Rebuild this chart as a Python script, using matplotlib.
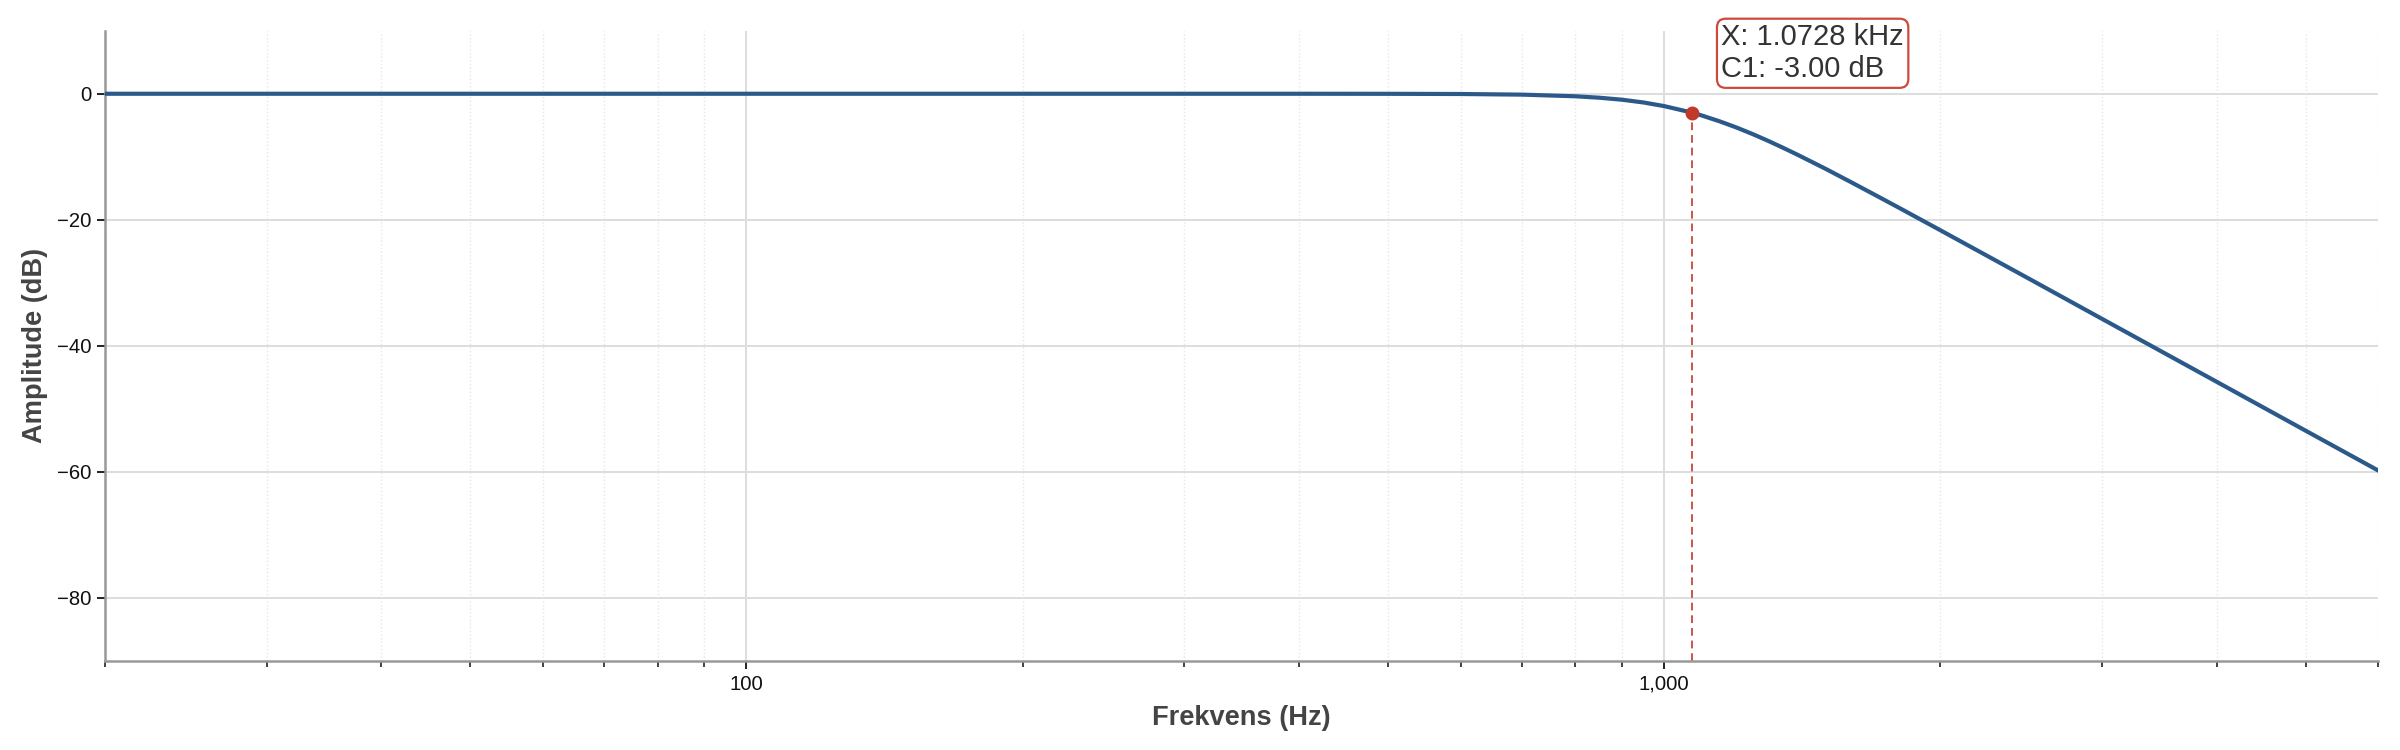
import matplotlib
matplotlib.use("Agg")
import matplotlib.pyplot as plt
from matplotlib.ticker import FuncFormatter, LogLocator, NullFormatter

# frekvensrespons (avlest fra kurven)
freq_hz = [20, 50, 100, 200, 300, 400, 500, 600, 700, 800, 850, 900, 950, 1000,
           1072.8, 1100, 1150, 1200, 1250, 1300, 1350, 1400, 1500, 1600, 1700,
           1800, 2000, 2500, 3000, 4000, 5000, 6000]
amp_db = [0.0, 0.0, 0.0, 0.0, 0.0, 0.0, -0.01, -0.04, -0.14, -0.40, -0.63, -0.95,
          -1.39, -1.96, -3.0, -3.47, -4.39, -5.38, -6.43, -7.52, -8.63, -9.74,
          -11.93, -14.07, -16.11, -18.05, -21.67, -29.39, -35.73, -45.72, -53.48,
          -59.81]

# markør
cursor_f = 1072.8
cursor_db = -3.00
cursor_text = "X: 1.0728 kHz\nC1: -3.00 dB"

y_ticks = [0, -20, -40, -60, -80]
x_major = [100, 1000]

plt.rcParams['font.family'] = ['Liberation Sans', 'DejaVu Sans']

fig = plt.figure(figsize=(12, 3.75), dpi=200)
ax = fig.add_axes([0.04375, 0.119, 0.9472, 0.84])

ax.plot(freq_hz, amp_db, color='#2b5a8a', lw=1.5, zorder=3)
ax.vlines(cursor_f, -90, cursor_db, colors='#c0392b', linestyles=(0, (4, 2.5)),
          lw=0.7, alpha=0.85, zorder=2)
ax.plot([cursor_f], [cursor_db], 'o', color='#c0392b', ms=4, zorder=4)
ax.annotate(cursor_text, xy=(cursor_f, cursor_db), xytext=(10.5, 10.5),
            textcoords='offset points', ha='left', va='bottom', fontsize=10.5,
            color='#333333', linespacing=1.2,
            bbox=dict(boxstyle='round,pad=0.15,rounding_size=0.3', fc='white',
                      ec='#cc4a3c', lw=0.8))

ax.set_xscale('log')
ax.set_xlim(20, 6000)
ax.set_ylim(-90, 10)
ax.set_yticks(y_ticks)
ax.set_xticks(x_major)
ax.xaxis.set_major_formatter(FuncFormatter(lambda v, p: f"{int(v):,}"))
ax.xaxis.set_minor_locator(LogLocator(base=10, subs=range(2, 10), numticks=20))
ax.xaxis.set_minor_formatter(NullFormatter())

ax.grid(True, which='major', color='#dddddd', lw=0.7, zorder=0)
ax.grid(True, which='minor', axis='x', color='#e6e6e6', lw=0.5, ls=':', zorder=0)
ax.set_axisbelow(True)

for s in ['top', 'right']:
    ax.spines[s].set_visible(False)
for s in ['left', 'bottom']:
    ax.spines[s].set_color('#999999')
    ax.spines[s].set_linewidth(0.9)

ax.tick_params(axis='both', which='major', labelsize=7.3, length=3, width=0.7,
               color='#222222', labelcolor='#111111', pad=2)
ax.tick_params(axis='x', which='minor', length=2, width=0.6, color='#222222')

ax.set_xlabel("Frekvens (Hz)", fontsize=9.8, fontweight='bold', color='#444444', labelpad=4)
ax.set_ylabel("Amplitude (dB)", fontsize=9.8, fontweight='bold', color='#444444', labelpad=3)

fig.savefig("out.png", dpi=200)
